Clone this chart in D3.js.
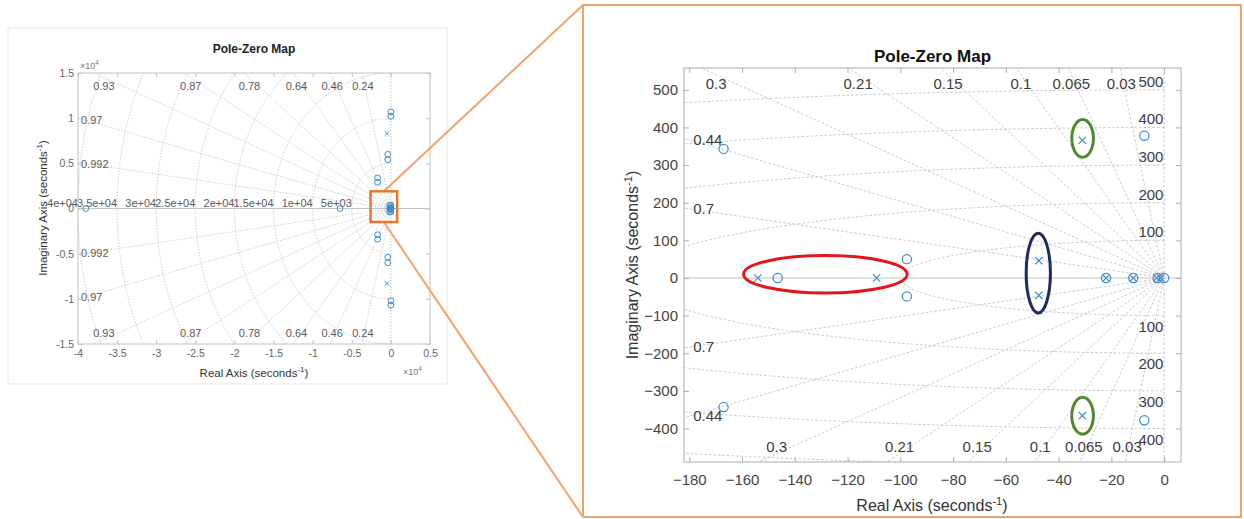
<!DOCTYPE html>
<html>
<head>
<meta charset="utf-8">
<script src="https://cdn.jsdelivr.net/npm/d3@7"></script>
<style>
  html, body { margin: 0; padding: 0; background: #fff; }
  svg { display: block; font-family: "Liberation Sans", Arial, Helvetica, sans-serif; }
</style>
</head>
<body>
<svg id="fig" width="1244" height="519"></svg>
<script>
// ---------- data: poles and zeros (seconds^-1), [real, imag] ----------
// close to the origin (shown in the zoomed map, and as a cluster in the full map)
const nearPoles = [
  [-154, 0], [-109, 0], [-47.5, 46], [-47.5, -46], [-31, 366], [-31, -366],
  [-22, 0], [-11.7, 0], [-2.8, 0], [-1.4, 0]
];
const nearZeros = [
  [-167, 343], [-167, -343], [-146.5, 0], [-97.5, 50], [-97.5, -49],
  [-7.5, 378], [-7.5, -378], [-22, 0], [-11.7, 0], [-2.5, 0], [0, 0]
];
// far from the origin (only visible in the full map)
const farPoles = [[-500, 8300], [-500, -8300]];
const farZeros = [
  [0, 10700], [0, -10700], [0, 10200], [0, -10200], [-400, 6000], [-400, -6000],
  [-400, 5400], [-400, -5400], [-1700, 3400], [-1700, -3400], [-1700, 2900], [-1700, -2900],
  [-6500, 0], [-39000, 0]
];

// ---------- grid settings ----------
const fullZetas = [0.24, 0.46, 0.64, 0.78, 0.87, 0.93, 0.97, 0.992];
const fullTopZetaLabels = [0.93, 0.87, 0.78, 0.64, 0.46, 0.24];
const fullSideZetaLabels = [0.97, 0.992];
const fullWn = [5000, 10000, 15000, 20000, 25000, 30000, 35000, 40000];
const fullXTicks = [-40000, -35000, -30000, -25000, -20000, -15000, -10000, -5000, 0, 5000];
const fullYTicks = [-15000, -10000, -5000, 0, 5000, 10000, 15000];

const zoomZetas = [0.03, 0.065, 0.1, 0.15, 0.21, 0.3, 0.44, 0.7];
const zoomTopZetaLabels = [0.3, 0.21, 0.15, 0.1, 0.065, 0.03];
const zoomSideZetaLabels = [0.44, 0.7];
const zoomWn = [100, 200, 300, 400, 500];
const zoomXTicks = [-180, -160, -140, -120, -100, -80, -60, -40, -20, 0];
const zoomYTicks = [-400, -300, -200, -100, 0, 100, 200, 300, 400, 500];

// highlight ellipses in the zoomed map: [centre re, centre im, radius re, radius im, colour]
const highlights = [
  [-128.4, 10, 31, 50, "#e3161c"],
  [-47.7, 13, 4.6, 106, "#1e2b5e"],
  [-30.9, 371, 4.1, 50, "#4f8a2c"],
  [-30.9, -366, 4.1, 49, "#4f8a2c"]
];
// region of the full map that is enlarged on the right: [re min, re max, im min, im max]
const zoomRegion = [-2600, 800, -1500, 1900];

const svg = d3.select("#fig");
const GRID = "#c2c2c2";
const BLUE = "#3d8bcd";

function expLabel(v) {
  return v.toExponential().replace(/e([+-])(\d)$/, "e$10$2");
}

function drawMap(cfg) {
  const { x, y, g, zetas, wns, id } = cfg;
  const [x0, x1] = x.range();
  const [y1, y0] = y.range();
  g.append("clipPath").attr("id", id).append("rect")
    .attr("x", x0).attr("y", y0).attr("width", x1 - x0).attr("height", y1 - y0);
  const grid = g.append("g").attr("clip-path", `url(#${id})`)
    .attr("fill", "none").attr("stroke", GRID).attr("stroke-width", cfg.gridWidth)
    .attr("stroke-dasharray", cfg.dash);

  // constant-damping rays
  const R = Math.max(Math.abs(x.domain()[0]), Math.abs(y.domain()[0]), y.domain()[1]) * 4;
  zetas.forEach(z => {
    const s = Math.sqrt(1 - z * z);
    [1, -1].forEach(sg => {
      grid.append("line")
        .attr("x1", x(0)).attr("y1", y(0))
        .attr("x2", x(-R * z)).attr("y2", y(sg * R * s));
    });
  });
  // constant natural-frequency arcs
  const arc = d3.line().x(d => x(d[0])).y(d => y(d[1]));
  wns.forEach(w => {
    const pts = d3.range(0, 361).map(i => {
      const a = Math.PI / 2 + i / 360 * Math.PI;
      return [w * Math.cos(a), w * Math.sin(a)];
    });
    grid.append("path").attr("d", arc(pts));
  });
  // real and imaginary axes
  const axes = g.append("g").attr("clip-path", `url(#${id})`).attr("stroke", "#c4c4c4").attr("stroke-width", 1);
  axes.append("line").attr("x1", x0).attr("x2", x1).attr("y1", y(0)).attr("y2", y(0));
  axes.append("line").attr("x1", x(0)).attr("x2", x(0)).attr("y1", y0).attr("y2", y1)
    .attr("stroke-dasharray", cfg.dash).attr("stroke", GRID);
}

function drawFrame(cfg) {
  const { x, y, g, tickColor, boxColor, font, xPad, yPad, tick } = cfg;
  const [x0, x1] = x.range();
  const [y1, y0] = y.range();
  const style = sel => {
    sel.select(".domain").remove();
    sel.selectAll(".tick line").attr("stroke", boxColor);
    sel.selectAll("text").attr("fill", tickColor).attr("font-size", font);
  };
  g.append("g").attr("transform", `translate(0,${y1})`)
    .call(d3.axisBottom(x).tickValues(cfg.xTicks).tickSize(-tick).tickPadding(xPad).tickFormat(cfg.xFmt)).call(style);
  g.append("g").attr("transform", `translate(0,${y0})`)
    .call(d3.axisTop(x).tickValues(cfg.xTicks).tickSize(-tick).tickFormat("")).call(style);
  g.append("g").attr("transform", `translate(${x0},0)`)
    .call(d3.axisLeft(y).tickValues(cfg.yTicks).tickSize(-tick).tickPadding(yPad).tickFormat(cfg.yFmt)).call(style);
  g.append("g").attr("transform", `translate(${x1},0)`)
    .call(d3.axisRight(y).tickValues(cfg.yTicks).tickSize(-tick).tickFormat("")).call(style);
  g.append("rect").attr("x", x0).attr("y", y0).attr("width", x1 - x0).attr("height", y1 - y0)
    .attr("fill", "none").attr("stroke", boxColor).attr("stroke-width", 1);
}

function drawMarkers(g, x, y, poles, zeros, r, lw, color) {
  g.selectAll(null).data(zeros).join("circle")
    .attr("cx", d => x(d[0])).attr("cy", d => y(d[1])).attr("r", r)
    .attr("fill", "none").attr("stroke", color).attr("stroke-width", lw);
  const h = r * 0.8;
  g.selectAll(null).data(poles).join("path")
    .attr("d", d => {
      const cx = x(d[0]), cy = y(d[1]);
      return `M${cx - h},${cy - h}L${cx + h},${cy + h}M${cx - h},${cy + h}L${cx + h},${cy - h}`;
    })
    .attr("fill", "none").attr("stroke", color).attr("stroke-width", lw);
}

function axisTitle(g, text, xp, yp, size, rotate, color) {
  const t = g.append("text").attr("text-anchor", "middle").attr("font-size", size).attr("fill", color)
    .attr("transform", `translate(${xp},${yp})` + (rotate ? " rotate(-90)" : ""));
  t.append("tspan").text(text + " (seconds");
  t.append("tspan").text("-1").attr("font-size", size * 0.7).attr("dy", -size * 0.4);
  t.append("tspan").text(")").attr("dy", size * 0.4);
}

// ================= full pole-zero map (left) =================
svg.append("rect").attr("x", 8).attr("y", 28).attr("width", 439).attr("height", 356)
  .attr("fill", "#fff").attr("stroke", "#e6e6e6");

const xL = d3.scaleLinear().domain([-40000, 5000]).range([78, 430]);
const yL = d3.scaleLinear().domain([-15000, 15000]).range([344, 73]);
const gL = svg.append("g");
drawMap({ x: xL, y: yL, g: gL, zetas: fullZetas, wns: fullWn, id: "clipL", gridWidth: 0.8, dash: "1.5,1.5" });

const LTXT = "#5a5a5a";
// damping labels along top and bottom edges
[[14500, 86], [-14500, 333]].forEach(([im, ty]) => {
  gL.selectAll(null).data(fullTopZetaLabels).join("text")
    .attr("x", z => xL(-Math.abs(im) * z / Math.sqrt(1 - z * z))).attr("y", ty)
    .attr("dy", "0.35em").attr("text-anchor", "middle").attr("font-size", 11).attr("fill", LTXT)
    .text(z => z);
});
[1, -1].forEach(sg => {
  gL.selectAll(null).data(fullSideZetaLabels).join("text")
    .attr("x", 81).attr("y", z => yL(sg * 39000 * Math.sqrt(1 - z * z) / z))
    .attr("dy", "0.35em").attr("font-size", 11).attr("fill", LTXT).text(z => z);
});
// natural frequency labels along the real axis; the outermost one sits on the left edge
gL.selectAll(null).data(fullWn).join("text")
  .attr("x", w => xL(-w)).attr("y", yL(0) - 2)
  .attr("text-anchor", "end").attr("font-size", 11).attr("fill", LTXT).text(expLabel);

drawMarkers(gL, xL, yL, farPoles.concat(nearPoles), farZeros.concat(nearZeros), 2.9, 1, BLUE);
drawFrame({
  x: xL, y: yL, g: gL, tickColor: "#666", boxColor: "#c2c2c2", font: 10.5, xPad: 6, yPad: 4, tick: 4,
  xTicks: fullXTicks, yTicks: fullYTicks, xFmt: v => v / 10000, yFmt: v => v / 10000
});
// exponent multipliers
[[80, 69], [403, 375]].forEach(([px, py]) => {
  const t = gL.append("text").attr("x", px).attr("y", py).attr("font-size", 9).attr("fill", "#777");
  t.append("tspan").text("\u00d710");
  t.append("tspan").text("4").attr("font-size", 6.5).attr("dy", -4);
});
gL.append("text").attr("x", 254).attr("y", 53).attr("text-anchor", "middle")
  .attr("font-size", 12).attr("font-weight", "bold").attr("fill", "#222").text("Pole-Zero Map");
axisTitle(gL, "Real Axis", 254, 377, 11.5, false, "#333");
axisTitle(gL, "Imaginary Axis", 47, 208, 11.5, true, "#333");

// enlarged region marker
const ORANGE = "#e8782c";
const bx0 = xL(zoomRegion[0]), bx1 = xL(zoomRegion[1]);
const by0 = yL(zoomRegion[3]), by1 = yL(zoomRegion[2]);

// ================= zoomed pole-zero map (right) =================
const FX0 = 583, FY0 = 5, FX1 = 1241, FY1 = 517;
svg.append("rect").attr("x", FX0).attr("y", FY0).attr("width", FX1 - FX0).attr("height", FY1 - FY0)
  .attr("fill", "#fff").attr("stroke", "#f0a46c").attr("stroke-width", 2);

const xR = d3.scaleLinear().domain([-182, 6.4]).range([684, 1181]);
const yR = d3.scaleLinear().domain([-489, 558]).range([462, 68]);
const gR = svg.append("g");
drawMap({ x: xR, y: yR, g: gR, zetas: zoomZetas, wns: zoomWn, id: "clipR", gridWidth: 0.9, dash: "2.5,2" });

const RTXT = "#3c3c3c";
[[540, 84], [-467, 447]].forEach(([im, ty]) => {
  gR.selectAll(null).data(zoomTopZetaLabels).join("text")
    .attr("x", z => xR(-Math.abs(im) * z / Math.sqrt(1 - z * z))).attr("y", ty)
    .attr("dy", "0.35em").attr("text-anchor", "middle").attr("font-size", 15).attr("fill", RTXT)
    .text(z => z);
});
[1, -1].forEach(sg => {
  gR.selectAll(null).data(zoomSideZetaLabels).join("text")
    .attr("x", xR(-178.5)).attr("y", z => yR(sg * 180 * Math.sqrt(1 - z * z) / z))
    .attr("dy", "0.35em").attr("font-size", 15).attr("fill", RTXT).text(z => z);
});
// natural-frequency labels: above each arc in the upper half, below it in the lower half
const [imMin, imMax] = yR.domain();
gR.selectAll(null).data(zoomWn.filter(w => w < imMax)).join("text")
  .attr("x", xR(-5)).attr("y", w => yR(w) - 3)
  .attr("text-anchor", "middle").attr("font-size", 15).attr("fill", RTXT).text(w => w);
gR.selectAll(null).data(zoomWn.filter(w => -w > imMin)).join("text")
  .attr("x", xR(-5)).attr("y", w => yR(-w) + 16)
  .attr("text-anchor", "middle").attr("font-size", 15).attr("fill", RTXT).text(w => w);

drawMarkers(gR, xR, yR, nearPoles, nearZeros, 4.6, 1.2, BLUE);
drawFrame({
  x: xR, y: yR, g: gR, tickColor: "#444", boxColor: "#acacac", font: 15, xPad: 12, yPad: 6, tick: 5,
  xTicks: zoomXTicks, yTicks: zoomYTicks, xFmt: d3.format("d"), yFmt: d3.format("d")
});

// highlight ellipses
gR.selectAll(null).data(highlights).join("ellipse")
  .attr("cx", d => xR(d[0])).attr("cy", d => yR(d[1]))
  .attr("rx", d => xR(d[0] + d[2]) - xR(d[0])).attr("ry", d => yR(d[1]) - yR(d[1] + d[3]))
  .attr("fill", "none").attr("stroke", d => d[4]).attr("stroke-width", 3);

gR.append("text").attr("x", (684 + 1181) / 2).attr("y", 62).attr("text-anchor", "middle")
  .attr("font-size", 17).attr("font-weight", "bold").attr("fill", "#111").text("Pole-Zero Map");
axisTitle(gR, "Real Axis", 932, 511, 16, false, "#333");
axisTitle(gR, "Imaginary Axis", 638, 265, 16, true, "#333");

// connector lines from the marked region to the enlarged view
const bcx = (bx0 + bx1) / 2;
svg.append("line").attr("x1", bcx).attr("y1", by0).attr("x2", FX0).attr("y2", FY0)
  .attr("stroke", "#f0a46c").attr("stroke-width", 2);
svg.append("line").attr("x1", bcx).attr("y1", by1).attr("x2", FX0).attr("y2", FY1)
  .attr("stroke", "#f0a46c").attr("stroke-width", 2);
svg.append("rect").attr("x", bx0).attr("y", by0).attr("width", bx1 - bx0).attr("height", by1 - by0)
  .attr("fill", "none").attr("stroke", ORANGE).attr("stroke-width", 2.5);
</script>
</body>
</html>
